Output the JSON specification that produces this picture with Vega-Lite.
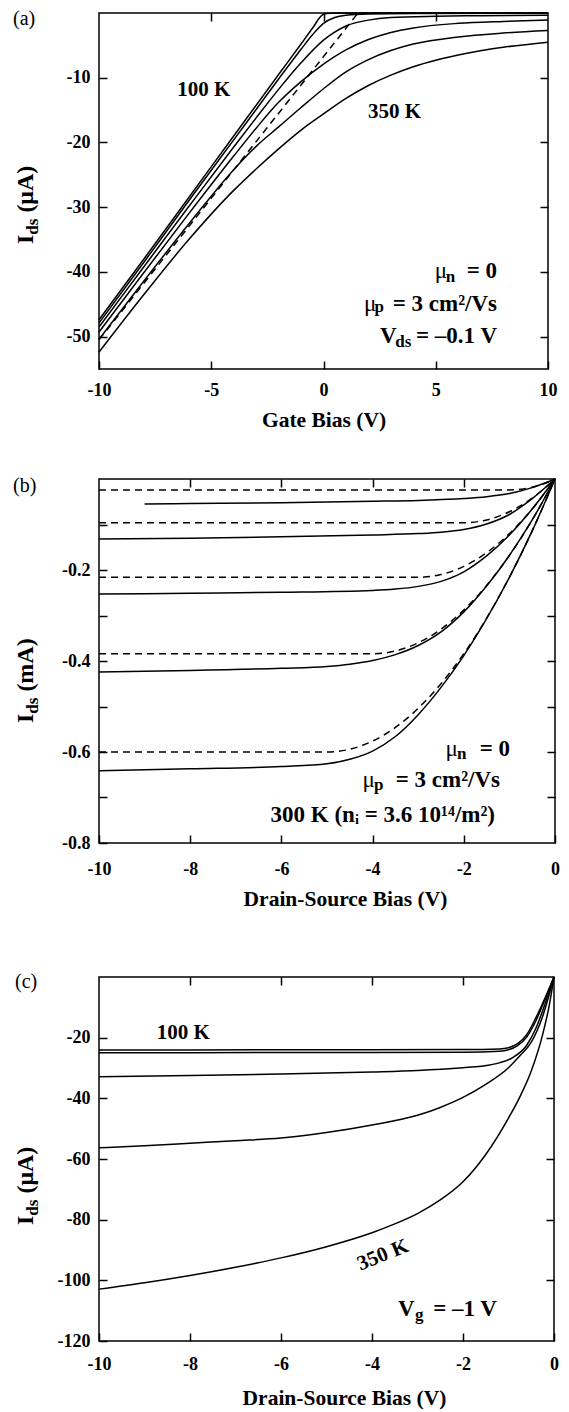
{
  "$schema": "https://vega.github.io/schema/vega-lite/v6.json",
  "background": "white",
  "padding": {"left": 12, "top": 7, "right": 5, "bottom": 5},
  "spacing": 42,
  "config": {
    "view": {"stroke": "black", "strokeWidth": 1.5},
    "font": "Liberation Serif",
    "axis": {"labelFont": "Liberation Serif", "labelFontWeight": "bold", "labelFontSize": 18, "labelColor": "black", "tickColor": "black", "tickSize": -8, "tickWidth": 1.5, "domain": false, "grid": false, "labelFlush": false, "labelOverlap": false, "titleFont": "Liberation Serif", "titleFontWeight": "bold", "titleFontSize": 21.5, "titleColor": "black"},
    "axisY": {"labelPadding": 17},
    "line": {"color": "black", "strokeWidth": 1.5},
    "text": {"font": "Liberation Serif", "color": "black"}
  },
  "vconcat": [
    {
      "width": 449, "height": 356,
      "resolve": {"axis": {"x": "independent", "y": "independent"}},
      "layer": [
        {
          "data": {"values": [
            {"c": "100K", "x": -10, "y": -47.4}, {"c": "100K", "x": -8, "y": -38.0}, {"c": "100K", "x": -6, "y": -28.5}, {"c": "100K", "x": -4, "y": -19.0}, {"c": "100K", "x": -2, "y": -9.5}, {"c": "100K", "x": -1, "y": -4.8}, {"c": "100K", "x": -0.5, "y": -2.4}, {"c": "100K", "x": 0, "y": -0.2}, {"c": "100K", "x": 0.3, "y": -0.05}, {"c": "100K", "x": 1, "y": 0}, {"c": "100K", "x": 10, "y": 0},
            {"c": "150K", "x": -10, "y": -47.9}, {"c": "150K", "x": -8, "y": -38.5}, {"c": "150K", "x": -6, "y": -29.0}, {"c": "150K", "x": -4, "y": -19.6}, {"c": "150K", "x": -3, "y": -14.9}, {"c": "150K", "x": -2, "y": -10.2}, {"c": "150K", "x": -1, "y": -5.6}, {"c": "150K", "x": -0.5, "y": -3.4}, {"c": "150K", "x": 0, "y": -1.6}, {"c": "150K", "x": 0.5, "y": -0.7}, {"c": "150K", "x": 1, "y": -0.35}, {"c": "150K", "x": 2, "y": -0.15}, {"c": "150K", "x": 4, "y": -0.08}, {"c": "150K", "x": 10, "y": -0.03},
            {"c": "200K", "x": -10, "y": -48.5}, {"c": "200K", "x": -8, "y": -39.2}, {"c": "200K", "x": -6, "y": -29.9}, {"c": "200K", "x": -4, "y": -20.7}, {"c": "200K", "x": -3, "y": -16.2}, {"c": "200K", "x": -2, "y": -11.8}, {"c": "200K", "x": -1, "y": -7.7}, {"c": "200K", "x": 0, "y": -4.2}, {"c": "200K", "x": 1, "y": -2.0}, {"c": "200K", "x": 2, "y": -1.1}, {"c": "200K", "x": 3, "y": -0.7}, {"c": "200K", "x": 5, "y": -0.5}, {"c": "200K", "x": 7, "y": -0.42}, {"c": "200K", "x": 10, "y": -0.35},
            {"c": "250K", "x": -10, "y": -49.3}, {"c": "250K", "x": -8, "y": -40.1}, {"c": "250K", "x": -6, "y": -31.0}, {"c": "250K", "x": -4, "y": -22.1}, {"c": "250K", "x": -3, "y": -17.8}, {"c": "250K", "x": -2, "y": -13.8}, {"c": "250K", "x": -1, "y": -10.6}, {"c": "250K", "x": 0, "y": -7.9}, {"c": "250K", "x": 1, "y": -5.7}, {"c": "250K", "x": 2, "y": -4.1}, {"c": "250K", "x": 3, "y": -3.0}, {"c": "250K", "x": 4, "y": -2.3}, {"c": "250K", "x": 6, "y": -1.6}, {"c": "250K", "x": 8, "y": -1.3}, {"c": "250K", "x": 10, "y": -1.1},
            {"c": "300K", "x": -10, "y": -50.4}, {"c": "300K", "x": -8, "y": -41.4}, {"c": "300K", "x": -6, "y": -32.6}, {"c": "300K", "x": -4, "y": -24.2}, {"c": "300K", "x": -3, "y": -20.6}, {"c": "300K", "x": -2, "y": -17.6}, {"c": "300K", "x": -1, "y": -14.6}, {"c": "300K", "x": 0, "y": -11.7}, {"c": "300K", "x": 1, "y": -9.1}, {"c": "300K", "x": 2, "y": -7.2}, {"c": "300K", "x": 3, "y": -5.8}, {"c": "300K", "x": 4, "y": -4.8}, {"c": "300K", "x": 6, "y": -3.7}, {"c": "300K", "x": 8, "y": -3.1}, {"c": "300K", "x": 10, "y": -2.7},
            {"c": "350K", "x": -10, "y": -52.4}, {"c": "350K", "x": -8, "y": -43.5}, {"c": "350K", "x": -6, "y": -35.0}, {"c": "350K", "x": -4, "y": -27.4}, {"c": "350K", "x": -3, "y": -24.1}, {"c": "350K", "x": -2, "y": -21.0}, {"c": "350K", "x": -1, "y": -18.1}, {"c": "350K", "x": 0, "y": -15.6}, {"c": "350K", "x": 1, "y": -13.2}, {"c": "350K", "x": 2, "y": -11.2}, {"c": "350K", "x": 3, "y": -9.6}, {"c": "350K", "x": 4, "y": -8.3}, {"c": "350K", "x": 5, "y": -7.3}, {"c": "350K", "x": 6, "y": -6.5}, {"c": "350K", "x": 8, "y": -5.3}, {"c": "350K", "x": 10, "y": -4.5}
          ]},
          "mark": {"type": "line", "interpolate": "monotone"},
          "encoding": {
            "x": {"field": "x", "type": "quantitative", "scale": {"domain": [-10, 10], "nice": false, "zero": false}, "axis": {"orient": "bottom", "values": [-10, -5, 0, 5, 10], "labelExpr": "toString(datum.value)", "title": "Gate Bias (V)", "labelPadding": 20, "titlePadding": 10}},
            "y": {"field": "y", "type": "quantitative", "scale": {"domain": [-55, 0], "nice": false, "zero": false}, "axis": {"orient": "left", "values": [-50, -40, -30, -20, -10], "labelExpr": "toString(datum.value)", "title": null}},
            "detail": {"field": "c"}
          }
        },
        {
          "data": {"values": [
            {"c": "lin", "x": -10, "y": -50.5}, {"c": "lin", "x": 1.54, "y": 0}, {"c": "lin", "x": 10, "y": 0}
          ]},
          "mark": {"type": "line", "strokeDash": [7, 5]},
          "encoding": {
            "x": {"field": "x", "type": "quantitative", "scale": {"domain": [-10, 10], "nice": false, "zero": false}, "axis": {"orient": "top", "values": [-5, 0, 5], "labels": false, "title": null}},
            "y": {"field": "y", "type": "quantitative", "scale": {"domain": [-55, 0], "nice": false, "zero": false}, "axis": {"orient": "right", "values": [-50, -40, -30, -20, -10], "labels": false, "title": null}},
            "detail": {"field": "c"}
          }
        },
        {
          "mark": {"type": "rule", "color": "black", "strokeWidth": 1.5},
          "encoding": {"x": {"datum": 0, "type": "quantitative", "axis": null}}
        },
        {
          "data": {"values": [{"x": -13.83, "y": -1.78, "t": "(a)"}]},
          "mark": {"type": "text", "fontSize": 20, "align": "left", "baseline": "alphabetic"},
          "encoding": {"x": {"field": "x", "type": "quantitative", "axis": null}, "y": {"field": "y", "type": "quantitative", "axis": null}, "text": {"field": "t"}}
        },
        {
          "data": {"values": [
            {"x": -6.52, "y": -12.8, "t": "100 K"}, {"x": 1.98, "y": -16.2, "t": "350 K"}
          ]},
          "mark": {"type": "text", "fontSize": 21, "fontWeight": "bold", "align": "left", "baseline": "alphabetic"},
          "encoding": {"x": {"field": "x", "type": "quantitative", "axis": null}, "y": {"field": "y", "type": "quantitative", "axis": null}, "text": {"field": "t"}}
        },
        {
          "data": {"values": [{"x": 2.52, "y": -50.98, "t": "V"}]},
          "mark": {"type": "text", "fontSize": 23, "fontWeight": "bold", "align": "left", "baseline": "alphabetic"},
          "encoding": {"x": {"field": "x", "type": "quantitative", "axis": null}, "y": {"field": "y", "type": "quantitative", "axis": null}, "text": {"field": "t"}}
        },
        {
          "data": {"values": [
            {"x": 4.95, "y": -40.94, "t": "μ"}, {"x": 1.8, "y": -46.04, "t": "μ"}
          ]},
          "mark": {"type": "text", "fontSize": 23, "align": "left", "baseline": "alphabetic"},
          "encoding": {"x": {"field": "x", "type": "quantitative", "axis": null}, "y": {"field": "y", "type": "quantitative", "axis": null}, "text": {"field": "t"}}
        },
        {
          "data": {"values": [
            {"x": 5.45, "y": -41.56, "t": "n"}, {"x": 2.27, "y": -46.19, "t": "p"}, {"x": 3.2, "y": -51.6, "t": "ds"}
          ]},
          "mark": {"type": "text", "fontSize": 17, "fontWeight": "bold", "align": "left", "baseline": "alphabetic"},
          "encoding": {"x": {"field": "x", "type": "quantitative", "axis": null}, "y": {"field": "y", "type": "quantitative", "axis": null}, "text": {"field": "t"}}
        },
        {
          "data": {"values": [
            {"x": 7.73, "y": -40.94, "t": "= 0"}, {"x": 7.73, "y": -46.04, "t": "= 3 cm²/Vs"}, {"x": 7.73, "y": -50.98, "t": "= –0.1 V"}
          ]},
          "mark": {"type": "text", "fontSize": 23, "fontWeight": "bold", "align": "right", "baseline": "alphabetic"},
          "encoding": {"x": {"field": "x", "type": "quantitative", "axis": null}, "y": {"field": "y", "type": "quantitative", "axis": null}, "text": {"field": "t"}}
        },
        {
          "data": {"values": [
            {"x": -12.94, "y": -35.69, "t": "I"}, {"x": -12.94, "y": -30.84, "t": "(μA)"}
          ]},
          "mark": {"type": "text", "fontSize": 24, "fontWeight": "bold", "align": "left", "baseline": "alphabetic", "angle": 270},
          "encoding": {"x": {"field": "x", "type": "quantitative", "axis": null}, "y": {"field": "y", "type": "quantitative", "axis": null}, "text": {"field": "t"}}
        },
        {
          "data": {"values": [{"x": -12.717, "y": -34.25, "t": "ds"}]},
          "mark": {"type": "text", "fontSize": 17, "fontWeight": "bold", "align": "left", "baseline": "alphabetic", "angle": 270},
          "encoding": {"x": {"field": "x", "type": "quantitative", "axis": null}, "y": {"field": "y", "type": "quantitative", "axis": null}, "text": {"field": "t"}}
        }
      ]
    },
    {
      "spacing": 60,
      "vconcat": [
        {
          "width": 456, "height": 364,
          "resolve": {"axis": {"x": "independent", "y": "independent"}},
          "layer": [
            {
              "data": {"values": [
                {"c": "s1", "x": -9, "y": -0.055}, {"c": "s1", "x": -8, "y": -0.054}, {"c": "s1", "x": -6, "y": -0.052}, {"c": "s1", "x": -4, "y": -0.049}, {"c": "s1", "x": -3, "y": -0.047}, {"c": "s1", "x": -2, "y": -0.043}, {"c": "s1", "x": -1.5, "y": -0.039}, {"c": "s1", "x": -1, "y": -0.032}, {"c": "s1", "x": -0.5, "y": -0.019}, {"c": "s1", "x": -0.25, "y": -0.010}, {"c": "s1", "x": 0, "y": 0},
                {"c": "s2", "x": -10, "y": -0.132}, {"c": "s2", "x": -8, "y": -0.130}, {"c": "s2", "x": -6, "y": -0.127}, {"c": "s2", "x": -4, "y": -0.123}, {"c": "s2", "x": -3, "y": -0.120}, {"c": "s2", "x": -2.5, "y": -0.117}, {"c": "s2", "x": -2, "y": -0.111}, {"c": "s2", "x": -1.5, "y": -0.099}, {"c": "s2", "x": -1, "y": -0.078}, {"c": "s2", "x": -0.5, "y": -0.043}, {"c": "s2", "x": 0, "y": 0},
                {"c": "s3", "x": -10, "y": -0.253}, {"c": "s3", "x": -8, "y": -0.251}, {"c": "s3", "x": -6, "y": -0.249}, {"c": "s3", "x": -4, "y": -0.245}, {"c": "s3", "x": -3.5, "y": -0.242}, {"c": "s3", "x": -3, "y": -0.236}, {"c": "s3", "x": -2.5, "y": -0.225}, {"c": "s3", "x": -2, "y": -0.204}, {"c": "s3", "x": -1.5, "y": -0.169}, {"c": "s3", "x": -1, "y": -0.123}, {"c": "s3", "x": -0.5, "y": -0.066}, {"c": "s3", "x": 0, "y": 0},
                {"c": "s4", "x": -10, "y": -0.424}, {"c": "s4", "x": -8, "y": -0.421}, {"c": "s4", "x": -6, "y": -0.416}, {"c": "s4", "x": -5, "y": -0.412}, {"c": "s4", "x": -4.5, "y": -0.407}, {"c": "s4", "x": -4, "y": -0.399}, {"c": "s4", "x": -3.5, "y": -0.386}, {"c": "s4", "x": -3, "y": -0.366}, {"c": "s4", "x": -2.5, "y": -0.336}, {"c": "s4", "x": -2, "y": -0.292}, {"c": "s4", "x": -1.5, "y": -0.235}, {"c": "s4", "x": -1, "y": -0.168}, {"c": "s4", "x": -0.5, "y": -0.090}, {"c": "s4", "x": 0, "y": 0},
                {"c": "s5", "x": -10, "y": -0.641}, {"c": "s5", "x": -8, "y": -0.637}, {"c": "s5", "x": -6, "y": -0.632}, {"c": "s5", "x": -5, "y": -0.626}, {"c": "s5", "x": -4.5, "y": -0.616}, {"c": "s5", "x": -4, "y": -0.598}, {"c": "s5", "x": -3.5, "y": -0.566}, {"c": "s5", "x": -3, "y": -0.518}, {"c": "s5", "x": -2.5, "y": -0.458}, {"c": "s5", "x": -2, "y": -0.388}, {"c": "s5", "x": -1.5, "y": -0.307}, {"c": "s5", "x": -1, "y": -0.216}, {"c": "s5", "x": -0.5, "y": -0.114}, {"c": "s5", "x": 0, "y": 0}
              ]},
              "mark": {"type": "line", "interpolate": "monotone"},
              "encoding": {
                "x": {"field": "x", "type": "quantitative", "scale": {"domain": [-10, 0], "nice": false, "zero": false}, "axis": {"orient": "bottom", "values": [-10, -8, -6, -4, -2, 0], "labelExpr": "toString(datum.value)", "title": "Drain-Source Bias (V)", "labelPadding": 25, "titlePadding": 10, "titleX": 246, "titleAlign": "center"}},
                "y": {"field": "y", "type": "quantitative", "scale": {"domain": [-0.8, 0], "nice": false, "zero": false}, "axis": {"orient": "left", "values": [-0.8, -0.7, -0.6, -0.5, -0.4, -0.3, -0.2, -0.1], "labelExpr": "indexof(['-0.2','-0.4','-0.6','-0.8'], toString(datum.value)) >= 0 ? toString(datum.value) : ''", "title": null}},
                "detail": {"field": "c"}
              }
            },
            {
              "data": {"values": [
                {"c": "d1", "x": -10, "y": -0.024}, {"c": "d1", "x": -1, "y": -0.024}, {"c": "d1", "x": -0.75, "y": -0.0225}, {"c": "d1", "x": -0.5, "y": -0.018}, {"c": "d1", "x": -0.25, "y": -0.0105}, {"c": "d1", "x": 0, "y": 0},
                {"c": "d2", "x": -10, "y": -0.096}, {"c": "d2", "x": -2, "y": -0.096}, {"c": "d2", "x": -1.5, "y": -0.090}, {"c": "d2", "x": -1, "y": -0.072}, {"c": "d2", "x": -0.5, "y": -0.042}, {"c": "d2", "x": 0, "y": 0},
                {"c": "d3", "x": -10, "y": -0.216}, {"c": "d3", "x": -3, "y": -0.216}, {"c": "d3", "x": -2.5, "y": -0.210}, {"c": "d3", "x": -2, "y": -0.192}, {"c": "d3", "x": -1.5, "y": -0.162}, {"c": "d3", "x": -1, "y": -0.120}, {"c": "d3", "x": -0.5, "y": -0.066}, {"c": "d3", "x": 0, "y": 0},
                {"c": "d4", "x": -10, "y": -0.384}, {"c": "d4", "x": -4, "y": -0.384}, {"c": "d4", "x": -3.5, "y": -0.378}, {"c": "d4", "x": -3, "y": -0.360}, {"c": "d4", "x": -2.5, "y": -0.330}, {"c": "d4", "x": -2, "y": -0.288}, {"c": "d4", "x": -1.5, "y": -0.234}, {"c": "d4", "x": -1, "y": -0.168}, {"c": "d4", "x": -0.5, "y": -0.090}, {"c": "d4", "x": 0, "y": 0},
                {"c": "d5", "x": -10, "y": -0.600}, {"c": "d5", "x": -5, "y": -0.600}, {"c": "d5", "x": -4.5, "y": -0.594}, {"c": "d5", "x": -4, "y": -0.576}, {"c": "d5", "x": -3.5, "y": -0.546}, {"c": "d5", "x": -3, "y": -0.504}, {"c": "d5", "x": -2.5, "y": -0.450}, {"c": "d5", "x": -2, "y": -0.384}, {"c": "d5", "x": -1.5, "y": -0.306}, {"c": "d5", "x": -1, "y": -0.216}, {"c": "d5", "x": -0.5, "y": -0.114}, {"c": "d5", "x": 0, "y": 0}
              ]},
              "mark": {"type": "line", "interpolate": "monotone", "strokeDash": [7, 5]},
              "encoding": {
                "x": {"field": "x", "type": "quantitative", "scale": {"domain": [-10, 0], "nice": false, "zero": false}, "axis": {"orient": "top", "values": [-8, -6, -4, -2], "labels": false, "title": null}},
                "y": {"field": "y", "type": "quantitative", "scale": {"domain": [-0.8, 0], "nice": false, "zero": false}, "axis": {"orient": "right", "values": [-0.7, -0.6, -0.5, -0.4, -0.3, -0.2, -0.1], "labels": false, "title": null}},
                "detail": {"field": "c"}
              }
            },
            {
              "data": {"values": [{"x": -11.886, "y": -0.0275, "t": "(b)"}]},
              "mark": {"type": "text", "fontSize": 20, "align": "left", "baseline": "alphabetic"},
              "encoding": {"x": {"field": "x", "type": "quantitative", "axis": null}, "y": {"field": "y", "type": "quantitative", "axis": null}, "text": {"field": "t"}}
            },
            {
              "data": {"values": [
                {"x": -2.40, "y": -0.6088, "t": "μ"}, {"x": -4.22, "y": -0.6769, "t": "μ"}
              ]},
              "mark": {"type": "text", "fontSize": 23, "align": "left", "baseline": "alphabetic"},
              "encoding": {"x": {"field": "x", "type": "quantitative", "axis": null}, "y": {"field": "y", "type": "quantitative", "axis": null}, "text": {"field": "t"}}
            },
            {
              "data": {"values": [
                {"x": -2.15, "y": -0.6154, "t": "n"}, {"x": -3.97, "y": -0.6835, "t": "p"}
              ]},
              "mark": {"type": "text", "fontSize": 17, "fontWeight": "bold", "align": "left", "baseline": "alphabetic"},
              "encoding": {"x": {"field": "x", "type": "quantitative", "axis": null}, "y": {"field": "y", "type": "quantitative", "axis": null}, "text": {"field": "t"}}
            },
            {
              "data": {"values": [
                {"x": -0.987, "y": -0.6088, "t": "= 0"}, {"x": -1.206, "y": -0.6769, "t": "= 3 cm²/Vs"}, {"x": -1.316, "y": -0.7538, "t": "300 K (nᵢ = 3.6 10¹⁴/m²)"}
              ]},
              "mark": {"type": "text", "fontSize": 23, "fontWeight": "bold", "align": "right", "baseline": "alphabetic"},
              "encoding": {"x": {"field": "x", "type": "quantitative", "axis": null}, "y": {"field": "y", "type": "quantitative", "axis": null}, "text": {"field": "t"}}
            },
            {
              "data": {"values": [
                {"x": -11.447, "y": -0.5363, "t": "I"}, {"x": -11.447, "y": -0.4673, "t": "(mA)"}
              ]},
              "mark": {"type": "text", "fontSize": 24, "fontWeight": "bold", "align": "left", "baseline": "alphabetic", "angle": 270},
              "encoding": {"x": {"field": "x", "type": "quantitative", "axis": null}, "y": {"field": "y", "type": "quantitative", "axis": null}, "text": {"field": "t"}}
            },
            {
              "data": {"values": [{"x": -11.338, "y": -0.5158, "t": "ds"}]},
              "mark": {"type": "text", "fontSize": 17, "fontWeight": "bold", "align": "left", "baseline": "alphabetic", "angle": 270},
              "encoding": {"x": {"field": "x", "type": "quantitative", "axis": null}, "y": {"field": "y", "type": "quantitative", "axis": null}, "text": {"field": "t"}}
            }
          ]
        },
        {
          "width": 455, "height": 364,
          "resolve": {"axis": {"x": "independent", "y": "independent"}},
          "layer": [
            {
              "data": {"values": [
                {"c": "a", "x": -10, "y": -24.1}, {"c": "a", "x": -6, "y": -24.0}, {"c": "a", "x": -2, "y": -23.9}, {"c": "a", "x": -1.2, "y": -23.7}, {"c": "a", "x": -1, "y": -23.3}, {"c": "a", "x": -0.8, "y": -22.0}, {"c": "a", "x": -0.6, "y": -19.0}, {"c": "a", "x": -0.4, "y": -13.5}, {"c": "a", "x": -0.2, "y": -7.0}, {"c": "a", "x": 0, "y": 0},
                {"c": "b", "x": -10, "y": -25.0}, {"c": "b", "x": -6, "y": -24.9}, {"c": "b", "x": -2, "y": -24.8}, {"c": "b", "x": -1.2, "y": -24.5}, {"c": "b", "x": -1, "y": -24.0}, {"c": "b", "x": -0.8, "y": -22.6}, {"c": "b", "x": -0.6, "y": -19.8}, {"c": "b", "x": -0.4, "y": -14.5}, {"c": "b", "x": -0.2, "y": -7.5}, {"c": "b", "x": 0, "y": 0},
                {"c": "c", "x": -10, "y": -32.9}, {"c": "c", "x": -8, "y": -32.5}, {"c": "c", "x": -6, "y": -32.0}, {"c": "c", "x": -4, "y": -31.3}, {"c": "c", "x": -3, "y": -30.8}, {"c": "c", "x": -2, "y": -29.9}, {"c": "c", "x": -1.6, "y": -29.4}, {"c": "c", "x": -1.2, "y": -28.3}, {"c": "c", "x": -0.9, "y": -26.5}, {"c": "c", "x": -0.6, "y": -22.5}, {"c": "c", "x": -0.4, "y": -17.0}, {"c": "c", "x": -0.2, "y": -9.0}, {"c": "c", "x": 0, "y": 0},
                {"c": "d", "x": -10, "y": -56.3}, {"c": "d", "x": -9, "y": -55.6}, {"c": "d", "x": -8, "y": -54.8}, {"c": "d", "x": -7, "y": -54.0}, {"c": "d", "x": -6, "y": -53.1}, {"c": "d", "x": -5, "y": -51.3}, {"c": "d", "x": -4, "y": -48.8}, {"c": "d", "x": -3, "y": -45.6}, {"c": "d", "x": -2.5, "y": -43.0}, {"c": "d", "x": -2, "y": -39.7}, {"c": "d", "x": -1.5, "y": -35.4}, {"c": "d", "x": -1, "y": -29.9}, {"c": "d", "x": -0.75, "y": -26.0}, {"c": "d", "x": -0.5, "y": -21.5}, {"c": "d", "x": -0.25, "y": -13.0}, {"c": "d", "x": 0, "y": 0}
              ]},
              "mark": {"type": "line", "interpolate": "monotone"},
              "encoding": {
                "x": {"field": "x", "type": "quantitative", "scale": {"domain": [-10, 0], "nice": false, "zero": false}, "axis": {"orient": "bottom", "values": [-10, -8, -6, -4, -2, 0], "labelExpr": "toString(datum.value)", "title": "Drain-Source Bias (V)", "labelPadding": 22, "titlePadding": 14, "titleX": 245, "titleAlign": "center"}},
                "y": {"field": "y", "type": "quantitative", "scale": {"domain": [-120, 0], "nice": false, "zero": false}, "axis": {"orient": "left", "values": [-120, -100, -80, -60, -40, -20], "labelExpr": "toString(datum.value)", "title": null}},
                "detail": {"field": "c"}
              }
            },
            {
              "data": {"values": [
                {"c": "e", "x": -10, "y": -102.9}, {"c": "e", "x": -9, "y": -100.8}, {"c": "e", "x": -8, "y": -98.4}, {"c": "e", "x": -7, "y": -95.7}, {"c": "e", "x": -6, "y": -92.6}, {"c": "e", "x": -5, "y": -88.9}, {"c": "e", "x": -4, "y": -84.3}, {"c": "e", "x": -3.5, "y": -81.4}, {"c": "e", "x": -3, "y": -78.0}, {"c": "e", "x": -2.5, "y": -73.5}, {"c": "e", "x": -2, "y": -67.5}, {"c": "e", "x": -1.5, "y": -58.5}, {"c": "e", "x": -1, "y": -46.5}, {"c": "e", "x": -0.75, "y": -39.5}, {"c": "e", "x": -0.5, "y": -31.0}, {"c": "e", "x": -0.25, "y": -19.0}, {"c": "e", "x": -0.1, "y": -9.0}, {"c": "e", "x": 0, "y": 0}
              ]},
              "mark": {"type": "line", "interpolate": "monotone"},
              "encoding": {
                "x": {"field": "x", "type": "quantitative", "scale": {"domain": [-10, 0], "nice": false, "zero": false}, "axis": {"orient": "top", "values": [-8, -6, -4, -2], "labels": false, "title": null}},
                "y": {"field": "y", "type": "quantitative", "scale": {"domain": [-120, 0], "nice": false, "zero": false}, "axis": {"orient": "right", "values": [-100, -80, -60, -40, -20], "labels": false, "title": null}},
                "detail": {"field": "c"}
              }
            },
            {
              "data": {"values": [{"x": -11.846, "y": -3.79, "t": "(c)"}]},
              "mark": {"type": "text", "fontSize": 20, "align": "left", "baseline": "alphabetic"},
              "encoding": {"x": {"field": "x", "type": "quantitative", "axis": null}, "y": {"field": "y", "type": "quantitative", "axis": null}, "text": {"field": "t"}}
            },
            {
              "data": {"values": [{"x": -8.73, "y": -20.4, "t": "100 K"}]},
              "mark": {"type": "text", "fontSize": 21, "fontWeight": "bold", "align": "left", "baseline": "alphabetic"},
              "encoding": {"x": {"field": "x", "type": "quantitative", "axis": null}, "y": {"field": "y", "type": "quantitative", "axis": null}, "text": {"field": "t"}}
            },
            {
              "data": {"values": [{"x": -3.429, "y": -111.76, "t": "V"}]},
              "mark": {"type": "text", "fontSize": 23, "fontWeight": "bold", "align": "left", "baseline": "alphabetic"},
              "encoding": {"x": {"field": "x", "type": "quantitative", "axis": null}, "y": {"field": "y", "type": "quantitative", "axis": null}, "text": {"field": "t"}}
            },
            {
              "data": {"values": [{"x": -1.253, "y": -111.76, "t": "= –1 V"}]},
              "mark": {"type": "text", "fontSize": 23, "fontWeight": "bold", "align": "right", "baseline": "alphabetic"},
              "encoding": {"x": {"field": "x", "type": "quantitative", "axis": null}, "y": {"field": "y", "type": "quantitative", "axis": null}, "text": {"field": "t"}}
            },
            {
              "data": {"values": [{"x": -3.055, "y": -113.08, "t": "g"}]},
              "mark": {"type": "text", "fontSize": 17, "fontWeight": "bold", "align": "left", "baseline": "alphabetic"},
              "encoding": {"x": {"field": "x", "type": "quantitative", "axis": null}, "y": {"field": "y", "type": "quantitative", "axis": null}, "text": {"field": "t"}}
            },
            {
              "data": {"values": [{"x": -3.76, "y": -91.7, "t": "350 K"}]},
              "mark": {"type": "text", "fontSize": 21, "fontWeight": "bold", "align": "center", "baseline": "middle", "angle": 338},
              "encoding": {"x": {"field": "x", "type": "quantitative", "axis": null}, "y": {"field": "y", "type": "quantitative", "axis": null}, "text": {"field": "t"}}
            },
            {
              "data": {"values": [
                {"x": -11.451, "y": -81.76, "t": "I"}, {"x": -11.451, "y": -71.41, "t": "(μA)"}
              ]},
              "mark": {"type": "text", "fontSize": 24, "fontWeight": "bold", "align": "left", "baseline": "alphabetic", "angle": 270},
              "encoding": {"x": {"field": "x", "type": "quantitative", "axis": null}, "y": {"field": "y", "type": "quantitative", "axis": null}, "text": {"field": "t"}}
            },
            {
              "data": {"values": [{"x": -11.341, "y": -78.69, "t": "ds"}]},
              "mark": {"type": "text", "fontSize": 17, "fontWeight": "bold", "align": "left", "baseline": "alphabetic", "angle": 270},
              "encoding": {"x": {"field": "x", "type": "quantitative", "axis": null}, "y": {"field": "y", "type": "quantitative", "axis": null}, "text": {"field": "t"}}
            }
          ]
        }
      ]
    }
  ]
}
